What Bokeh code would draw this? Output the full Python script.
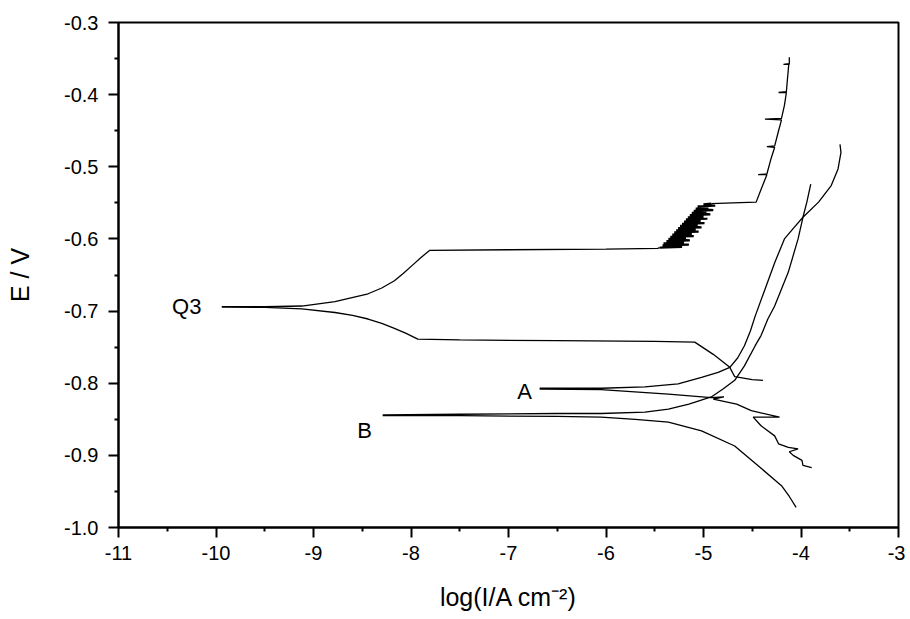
from bokeh.plotting import figure
from bokeh.models import Range1d, FixedTicker
from bokeh.core.properties import value
from bokeh.embed import file_html
from bokeh.resources import INLINE

# ---------------- data ----------------
x_ticks = [-11, -10, -9, -8, -7, -6, -5, -4, -3]
x_tick_labels = ["-11", "-10", "-9", "-8", "-7", "-6", "-5", "-4", "-3"]
x_minor = [-10.5, -9.5, -8.5, -7.5, -6.5, -5.5, -4.5, -3.5]
y_ticks = [-1.0, -0.9, -0.8, -0.7, -0.6, -0.5, -0.4, -0.3]
y_tick_labels = ["-1.0", "-0.9", "-0.8", "-0.7", "-0.6", "-0.5", "-0.4", "-0.3"]
y_minor = [-0.95, -0.85, -0.75, -0.65, -0.55, -0.45, -0.35]

# Q3 curve: cathodic branch (tip -> right end)
q3_cath_x = [-9.94, -9.5, -9.12, -8.78, -8.60, -8.44, -8.30, -8.17, -8.05, -7.93,
             -7.5, -6.5, -5.5, -5.09, -4.90, -4.73, -4.68, -4.50, -4.39]
q3_cath_y = [-0.694, -0.695, -0.697, -0.702, -0.706, -0.711, -0.717, -0.724, -0.731, -0.739,
             -0.740, -0.741, -0.742, -0.743, -0.760, -0.778, -0.791, -0.795, -0.796]
# Q3 anodic branch: tip -> lower plateau
q3_low_x = [-9.94, -9.5, -9.12, -8.78, -8.44, -8.30, -8.17, -8.08, -7.99, -7.90, -7.81,
            -7.0, -6.0, -5.47, -5.45]
q3_low_y = [-0.694, -0.694, -0.693, -0.687, -0.676, -0.668, -0.658, -0.648, -0.637, -0.626, -0.616,
            -0.615, -0.614, -0.613, -0.612]
# Q3 noisy band between the two plateaus
q3_band_x = [-5.45, -5.22, -5.42, -5.15, -5.41, -5.20, -5.38, -5.14, -5.36, -5.18,
             -5.34, -5.10, -5.32, -5.12, -5.30, -5.05, -5.28, -5.08, -5.26, -5.02,
             -5.24, -5.06, -5.22, -4.99, -5.20, -5.03, -5.18, -4.96, -5.16, -5.00,
             -5.14, -4.93, -5.12, -4.97, -5.10, -4.90, -5.08, -4.95, -5.06, -4.88,
             -5.00, -4.92]
q3_band_y = [-0.612, -0.611, -0.609, -0.608, -0.606, -0.605, -0.603, -0.602, -0.600, -0.599,
             -0.597, -0.596, -0.594, -0.593, -0.591, -0.590, -0.588, -0.587, -0.585, -0.584,
             -0.582, -0.581, -0.579, -0.578, -0.576, -0.575, -0.573, -0.572, -0.570, -0.569,
             -0.567, -0.566, -0.564, -0.563, -0.561, -0.560, -0.558, -0.557, -0.555, -0.554,
             -0.552, -0.551]
# Q3 upper plateau and final rise
q3_high_x = [-4.92, -4.70, -4.46,
             -4.40, -4.35, -4.44, -4.35, -4.31, -4.27, -4.35, -4.27, -4.23, -4.20, -4.37, -4.20,
             -4.17, -4.15, -4.23, -4.15, -4.14, -4.13, -4.125, -4.18, -4.12, -4.12]
q3_high_y = [-0.551, -0.550, -0.549,
             -0.528, -0.511, -0.511, -0.510, -0.490, -0.473, -0.472, -0.471, -0.450, -0.435, -0.434, -0.433,
             -0.415, -0.397, -0.397, -0.396, -0.380, -0.365, -0.357, -0.358, -0.358, -0.348]

# A curve
a_cath_x = [-6.68, -6.05, -5.36, -4.92, -4.79, -4.90, -4.66, -4.51, -4.22, -4.49, -4.41, -4.27,
            -4.23, -4.13, -4.03, -4.12, -4.08, -3.99, -3.98, -3.89]
a_cath_y = [-0.808, -0.809, -0.815, -0.820, -0.819, -0.822, -0.829, -0.838, -0.847, -0.847, -0.859, -0.873,
            -0.884, -0.889, -0.891, -0.895, -0.900, -0.907, -0.914, -0.917]
a_anod_x = [-6.68, -6.05, -5.60, -5.26, -5.02, -4.85, -4.73, -4.65, -4.58, -4.52, -4.47, -4.37,
            -4.27, -4.17, -4.07, -3.98, -3.82, -3.69, -3.62, -3.59, -3.60]
a_anod_y = [-0.807, -0.807, -0.805, -0.801, -0.792, -0.785, -0.778, -0.765, -0.748, -0.728, -0.707, -0.670,
            -0.633, -0.600, -0.584, -0.570, -0.549, -0.526, -0.503, -0.480, -0.469]

# B curve
b_cath_x = [-8.29, -7.5, -6.5, -6.05, -5.70, -5.36, -5.02, -4.68, -4.40, -4.20, -4.12, -4.05]
b_cath_y = [-0.845, -0.845, -0.846, -0.847, -0.850, -0.854, -0.866, -0.887, -0.919, -0.942, -0.957, -0.972]
b_anod_x = [-8.29, -7.5, -6.5, -6.05, -5.60, -5.36, -5.15, -4.92, -4.80, -4.68, -4.58, -4.47,
            -4.41, -4.34, -4.27, -4.13, -4.03, -3.98, -3.94, -3.90]
b_anod_y = [-0.844, -0.843, -0.842, -0.842, -0.840, -0.836, -0.829, -0.819, -0.808, -0.796, -0.776, -0.748,
            -0.734, -0.711, -0.693, -0.646, -0.600, -0.570, -0.549, -0.524]

curve_labels = ["Q3", "A", "B"]
label_x = [-10.15, -6.76, -8.40]
label_y = [-0.693, -0.812, -0.866]

# ---------------- figure ----------------
FONT = "Liberation Sans"

p = figure(width=905, height=619,
           x_range=Range1d(-11, -3), y_range=Range1d(-1.0, -0.3),
           output_backend="svg", toolbar_location=None,
           min_border_left=118, min_border_right=7,
           min_border_top=22, min_border_bottom=92)

p.grid.visible = False
p.background_fill_color = "white"
p.border_fill_color = "white"
p.outline_line_color = "black"
p.outline_line_width = 2

for ax, ticks, minor, labels in ((p.xaxis[0], x_ticks, x_minor, x_tick_labels),
                                 (p.yaxis[0], y_ticks, y_minor, y_tick_labels)):
    ax.ticker = FixedTicker(ticks=ticks, minor_ticks=minor)
    ax.major_label_overrides = {t: l for t, l in zip(ticks, labels)}
    ax.axis_line_width = 2
    ax.axis_line_color = "black"
    ax.major_tick_line_width = 2
    ax.major_tick_line_color = "black"
    ax.minor_tick_line_width = 2
    ax.minor_tick_line_color = "black"
    ax.major_tick_in = 0
    ax.major_tick_out = 10
    ax.minor_tick_in = 0
    ax.minor_tick_out = 4
    ax.major_label_text_font = FONT
    ax.major_label_text_font_size = "20px"
    ax.major_label_text_color = "black"
    ax.axis_label_text_font = FONT
    ax.axis_label_text_font_size = "25px"
    ax.axis_label_text_font_style = "normal"
    ax.axis_label_text_color = "black"

p.xaxis.major_label_standoff = 8
p.yaxis.major_label_standoff = 10
p.xaxis.axis_label = "log(I/A cm\u207b\u00b2)"
p.yaxis.axis_label = "E / V"
p.xaxis.axis_label_standoff = 20
p.yaxis.axis_label_standoff = 27

lw = 1.3
for xs, ys in ((q3_cath_x, q3_cath_y), (q3_low_x, q3_low_y), (q3_high_x, q3_high_y),
               (a_cath_x, a_cath_y), (a_anod_x, a_anod_y),
               (b_cath_x, b_cath_y), (b_anod_x, b_anod_y)):
    p.line(xs, ys, line_color="black", line_width=lw)
p.line(q3_band_x, q3_band_y, line_color="black", line_width=2.2)

p.text(x=label_x, y=label_y, text=curve_labels, text_font=value(FONT),
       text_font_size="22px", text_color="black",
       text_align="right", text_baseline="alphabetic")

open("out.html", "w").write(file_html(p, INLINE))
